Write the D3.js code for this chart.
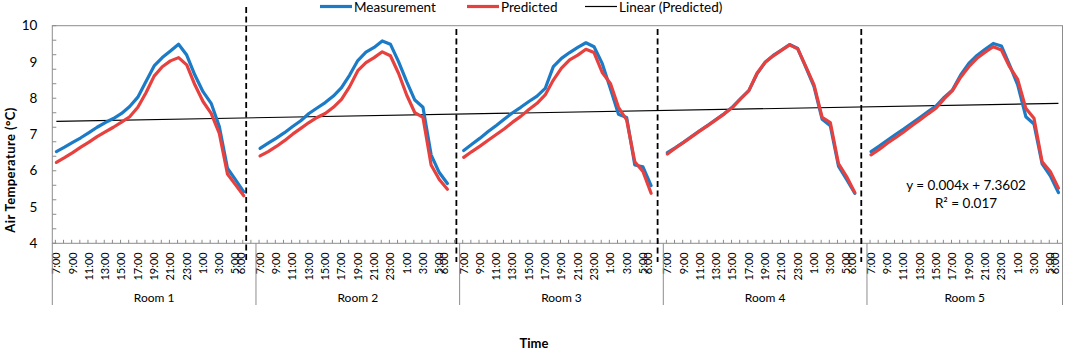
<!DOCTYPE html>
<html><head><meta charset="utf-8">
<script src="https://cdn.jsdelivr.net/npm/d3@7/dist/d3.min.js"></script>
<style>body{margin:0;background:#fff}svg{display:block}text{font-family:Lato,"Open Sans",sans-serif}</style>
</head><body>
<svg id="chart" width="1065" height="351"></svg>
<script>
// ---------- data ----------
const rooms = ["Room 1", "Room 2", "Room 3", "Room 4", "Room 5"];
const hours = ["7:00","8:00","9:00","10:00","11:00","12:00","13:00","14:00","15:00","16:00","17:00","18:00",
               "19:00","20:00","21:00","22:00","23:00","0:00","1:00","2:00","3:00","4:00","5:00","6:00"];
const shownLabels = ["7:00","9:00","11:00","13:00","15:00","17:00","19:00","21:00","23:00","1:00","3:00","5:00","6:00"];

const measurement1 = [6.53,6.65,6.78,6.91,7.05,7.20,7.33,7.44,7.58,7.77,8.03,8.46,8.89,9.12,9.30,9.49,9.19,8.64,8.18,7.86,7.22,6.07,5.75,5.42];
const measurement2 = [6.62,6.76,6.90,7.05,7.22,7.38,7.58,7.73,7.88,8.06,8.29,8.64,9.04,9.27,9.40,9.58,9.49,9.01,8.46,7.95,7.75,6.44,5.95,5.65];
const measurement3 = [6.56,6.73,6.90,7.08,7.25,7.43,7.60,7.75,7.91,8.06,8.27,8.87,9.10,9.26,9.40,9.53,9.42,8.96,8.27,7.56,7.47,6.16,6.11,5.59];
const measurement4 = [6.50,6.64,6.79,6.95,7.11,7.26,7.42,7.58,7.76,7.99,8.21,8.67,8.99,9.18,9.33,9.48,9.37,8.85,8.32,7.42,7.24,6.13,5.76,5.38];
const measurement5 = [6.53,6.68,6.84,7.00,7.15,7.31,7.47,7.63,7.79,8.03,8.23,8.64,8.96,9.18,9.35,9.51,9.44,8.92,8.37,7.49,7.29,6.19,5.86,5.40];

const predicted1 = [6.23,6.36,6.50,6.65,6.79,6.94,7.07,7.20,7.34,7.49,7.75,8.15,8.61,8.87,9.03,9.12,8.92,8.37,7.91,7.58,7.03,5.91,5.61,5.31];
const predicted2 = [6.41,6.53,6.67,6.83,7.01,7.17,7.33,7.47,7.58,7.75,7.97,8.32,8.76,8.98,9.12,9.28,9.17,8.69,8.09,7.60,7.47,6.16,5.76,5.49];
const predicted3 = [6.37,6.53,6.68,6.84,7.00,7.16,7.34,7.50,7.69,7.86,8.09,8.50,8.83,9.06,9.19,9.35,9.26,8.71,8.41,7.75,7.40,6.25,5.98,5.38];
const predicted4 = [6.46,6.63,6.78,6.94,7.10,7.25,7.41,7.57,7.75,7.99,8.21,8.69,8.99,9.17,9.32,9.47,9.36,8.87,8.37,7.47,7.33,6.20,5.84,5.40];
const predicted5 = [6.44,6.59,6.76,6.91,7.07,7.24,7.40,7.57,7.73,7.99,8.21,8.58,8.87,9.10,9.27,9.42,9.33,8.87,8.52,7.72,7.45,6.25,5.98,5.52];

const measurement = [measurement1, measurement2, measurement3, measurement4, measurement5];
const predicted   = [predicted1, predicted2, predicted3, predicted4, predicted5];

const yTicks = [4, 5, 6, 7, 8, 9, 10];
const yMinorStep = 0.4;
const trendSlope = 0.004;
const trendIntercept = 7.3602;
const equationText = ["y = 0.004x + 7.3602", "R² = 0.017"];
const dividers = [23.8, 49.6, 74.3, 99.3];   // dashed separators, in category units
const seriesNames = ["Measurement", "Predicted", "Linear (Predicted)"];

// ---------- layout ----------
const W = 1065, H = 351;
const plot = {left: 52.3, right: 1062.5, top: 25.7, bottom: 243.3};
const colors = {meas: "#1B7BC6", pred: "#E6413F", axis: "#8c8c8c"};
const dividerTops = [7, 29, 29, 29];

// categories: each room = 24 hours + 1 blank gap (except last room)
const cats = [];
rooms.forEach((r, ri) => {
  hours.forEach((h, hi) => cats.push({key: ri + "|" + hi, room: ri, hour: h, hi}));
  if (ri < rooms.length - 1) cats.push({key: ri + "|gap", room: ri, hour: "", hi: -1});
});

const x = d3.scaleBand().domain(cats.map(c => c.key)).range([plot.left, plot.right]).padding(0);
const bw = x.bandwidth();
const xc = k => x(k) + bw / 2;
const xIdx = d3.scaleLinear().domain([0, cats.length]).range([plot.left, plot.right]);
const y = d3.scaleLinear().domain([4, 10]).range([plot.bottom, plot.top]);

const svg = d3.select("#chart");
svg.append("rect").attr("width", W).attr("height", H).attr("fill", "#fff");

// plot frame
svg.append("rect").attr("x", plot.left).attr("y", plot.top)
  .attr("width", plot.right - plot.left).attr("height", plot.bottom - plot.top)
  .attr("fill", "none").attr("stroke", colors.axis).attr("stroke-width", 1);

// y axis ticks (minor, inside)
const minor = d3.range(4, 10.0001, yMinorStep);
svg.append("g").selectAll("line").data(minor).join("line")
  .attr("x1", plot.left).attr("x2", plot.left + 4)
  .attr("y1", d => y(d)).attr("y2", d => y(d))
  .attr("stroke", colors.axis).attr("stroke-width", 1);
svg.append("g").selectAll("text").data(yTicks).join("text")
  .attr("x", plot.left - 15).attr("y", d => y(d)).attr("dy", "0.35em")
  .attr("text-anchor", "end").attr("font-size", 13.5).attr("fill", "#000")
  .text(d => d);

// x axis category ticks (inside)
svg.append("g").selectAll("line").data(cats).join("line")
  .attr("x1", d => xc(d.key) - 1).attr("x2", d => xc(d.key) - 1)
  .attr("y1", plot.bottom - 3.5).attr("y2", plot.bottom)
  .attr("stroke", colors.axis).attr("stroke-width", 1);

// hour labels
const labelCats = cats.filter(c => c.hi >= 0 && shownLabels.includes(c.hour) && (c.hi % 2 === 0 || c.hi === 23));
svg.append("g").selectAll("text").data(labelCats).join("text")
  .attr("transform", d => `translate(${xc(d.key) - (d.hi === 23 ? 3 : 0)},${plot.bottom + 9}) rotate(-90)`)
  .attr("dy", "0.35em").attr("text-anchor", "end").attr("font-size", 11).attr("fill", "#000")
  .text(d => d.hour);

// room separators & labels
const roomStart = rooms.map((r, ri) => x(cats.find(c => c.room === ri).key));
const roomEnd = rooms.map((r, ri) => ri < rooms.length - 1 ? roomStart[ri + 1] : plot.right);
const sepX = roomStart.concat([plot.right]);
svg.append("g").selectAll("line").data(sepX).join("line")
  .attr("x1", d => d).attr("x2", d => d)
  .attr("y1", plot.bottom).attr("y2", 305)
  .attr("stroke", colors.axis).attr("stroke-width", 1);
svg.append("g").selectAll("text").data(rooms).join("text")
  .attr("x", (d, i) => (roomStart[i] + roomEnd[i]) / 2).attr("y", 298).attr("dy", "0.35em")
  .attr("text-anchor", "middle").attr("font-size", 12).attr("fill", "#000")
  .text(d => d);

// trend line
const firstIdx = 0, lastIdx = cats.length - 1;
svg.append("line")
  .attr("x1", xc(cats[firstIdx].key)).attr("y1", y(trendIntercept + trendSlope * (firstIdx + 1)))
  .attr("x2", xc(cats[lastIdx].key)).attr("y2", y(trendIntercept + trendSlope * (lastIdx + 1)))
  .attr("stroke", "#000").attr("stroke-width", 1.2);

// series lines
const line = d3.line().x(d => xc(d.key)).y(d => y(d.v));
[[measurement, colors.meas], [predicted, colors.pred]].forEach(([series, col]) => {
  series.forEach((vals, ri) => {
    const pts = vals.map((v, hi) => ({key: ri + "|" + hi, v}));
    svg.append("path").datum(pts).attr("d", line)
      .attr("fill", "none").attr("stroke", col).attr("stroke-width", 3.2)
      .attr("stroke-linejoin", "round").attr("stroke-linecap", "round");
  });
});

// dashed dividers
svg.append("g").selectAll("line").data(dividers).join("line")
  .attr("x1", d => xIdx(d)).attr("x2", d => xIdx(d))
  .attr("y1", (d, i) => dividerTops[i]).attr("y2", 262)
  .attr("stroke", "#000").attr("stroke-width", 1.8).attr("stroke-dasharray", "6,3.5");

// equation
svg.append("g").selectAll("text").data(equationText).join("text")
  .attr("x", 966).attr("y", (d, i) => 185 + i * 18).attr("dy", "0.35em")
  .attr("text-anchor", "middle").attr("font-size", 13.5).attr("fill", "#000")
  .text(d => d);

// axis titles
svg.append("text").attr("transform", "translate(10,170) rotate(-90)")
  .attr("dy", "0.35em").attr("text-anchor", "middle").attr("font-size", 13)
  .attr("letter-spacing", 0.4)
  .attr("font-weight", "bold").attr("fill", "#000").text("Air Temperature  (°C)");
svg.append("text").attr("x", 534).attr("y", 343).attr("dy", "0.35em")
  .attr("text-anchor", "middle").attr("font-size", 13).attr("font-weight", "bold")
  .attr("fill", "#000").text("Time");

// legend
const legendItems = [
  {name: seriesNames[0], col: colors.meas, w: 3.2, x: 320},
  {name: seriesNames[1], col: colors.pred, w: 3.2, x: 467},
  {name: seriesNames[2], col: "#000", w: 1.2, x: 585}
];
const lg = svg.append("g").selectAll("g").data(legendItems).join("g")
  .attr("transform", d => `translate(${d.x},7.5)`);
lg.append("line").attr("x1", 0).attr("x2", 32).attr("y1", -1).attr("y2", -1)
  .attr("stroke", d => d.col).attr("stroke-width", d => d.w);
lg.append("text").attr("x", 34).attr("dy", "0.35em").attr("font-size", 13.5).attr("fill", "#000")
  .text(d => d.name);
</script>
</body></html>
